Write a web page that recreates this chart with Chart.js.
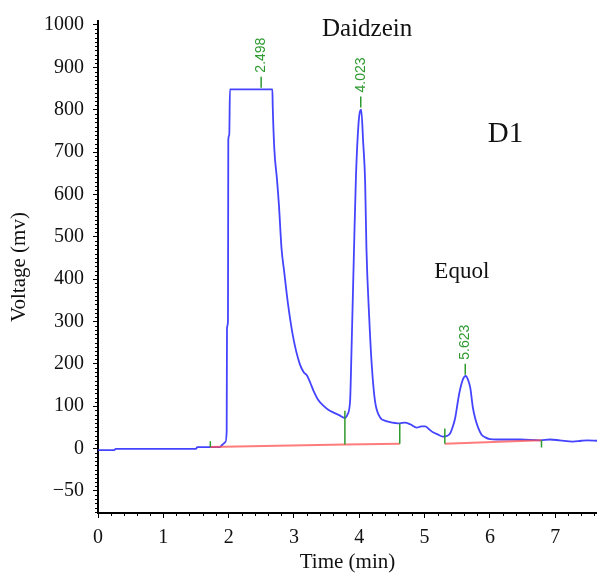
<!DOCTYPE html>
<html>
<head>
<meta charset="utf-8">
<script src="https://cdn.jsdelivr.net/npm/chart.js@4/dist/chart.umd.min.js"></script>
<style>
  body { margin: 0; background: #fff; }
  #grafico { display: block; }
</style>
</head>
<body>
<canvas id="grafico" width="597" height="575"></canvas>
<script>
const tempos = [0, 0.25, 0.27, 1.5, 1.52, 1.86, 1.9, 1.93, 1.95, 1.97, 1.975, 1.99, 1.995, 2.01, 2.02,
  2.67, 2.675, 2.70, 2.74, 2.77, 2.81, 2.85, 2.91, 2.99, 3.09, 3.15, 3.20, 3.25, 3.30, 3.37, 3.45,
  3.52, 3.60, 3.70, 3.78, 3.82, 3.86, 3.88, 3.92, 3.95, 3.99, 4.01, 4.03, 4.06, 4.09, 4.11, 4.15,
  4.19, 4.24, 4.32, 4.40, 4.47, 4.55, 4.62, 4.70, 4.78, 4.88, 4.95, 5.01, 5.07, 5.13, 5.20, 5.28,
  5.35, 5.39, 5.44, 5.47, 5.53, 5.59, 5.63, 5.67, 5.70, 5.74, 5.78, 5.82, 5.87, 5.93, 6.0, 6.11,
  6.46, 6.77, 6.92, 7.07, 7.27, 7.40, 7.49, 7.64]
const voltagens = [-4, -4, -1, -1, 3, 3, 8, 12, 15, 40, 284, 300, 730, 740, 848,
  848, 810, 706, 636, 575, 472, 418, 340, 261, 199, 180, 172, 155, 136, 115, 101,
  92, 85, 78, 72, 80, 113, 223, 472, 645, 770, 795, 800, 723, 629, 472, 317,
  200, 113, 73, 65, 62, 60, 59, 61, 57, 49, 52, 52, 45, 38, 33, 28,
  30, 35, 55, 73, 129, 164, 171, 160, 143, 96, 68, 49, 33, 26, 22, 21,
  21, 19, 21, 19, 16, 18, 19, 18]

// linhas de base da integracao (vermelho)
const baseInicio = [1.72, 3.78, 5.31]
const baseFim = [3.78, 4.62, 6.79]
const baseVInicio = [3, 9, 11]
const baseVFim = [9, 11, 19]

// marcas verdes nos limites dos picos
const limiteTempos = [1.72, 3.78, 4.62, 5.31, 6.79]
const limiteTopo = [17, 89, 59, 47, 19]
const limiteBase = [3, 9, 11, 11, 2]

// picos identificados
const picoTempos = [2.498, 4.023, 5.623]
const picoRotulos = ["2.498", "4.023", "5.623"]
const picoTopo = [852, 805, 174]

const yTicks = [-100, 0, 100, 200, 300, 400, 500, 600, 700, 800, 900, 1000]
const yRotulos = ["\u221250", "0", "100", "200", "300", "400", "500", "600", "700", "800", "900", "1000"]
const xTicks = [0, 1, 2, 3, 4, 5, 6, 7]

const textos = [
  { t: "Daidzein", x: 4.12, y: 990, size: 25 },
  { t: "D1", x: 6.24, y: 742, size: 29 },
  { t: "Equol", x: 5.57, y: 416, size: 23 }
]

const serif = "'Liberation Serif', 'DejaVu Serif', serif"

const dadosLinha = tempos.map((t, i) => ({ x: t, y: voltagens[i] }))
const dadosBase = []
baseInicio.forEach((t, i) => {
  dadosBase.push({ x: t, y: baseVInicio[i] })
  dadosBase.push({ x: baseFim[i], y: baseVFim[i] })
  dadosBase.push({ x: baseFim[i] + 0.001, y: null })
})

// desenha ticks menores, marcas verdes e textos
const extras = {
  id: "extras",
  afterDatasetsDraw(chart) {
    const ctx = chart.ctx
    const x = chart.scales.x
    const y = chart.scales.y
    ctx.save()
    ctx.strokeStyle = "#000"
    ctx.lineWidth = 1
    ctx.beginPath()
    for (let v = 0.2; v < x.max; v += 0.2) {
      if (Math.abs(v - Math.round(v)) < 0.01) continue
      const px = Math.round(x.getPixelForValue(v)) + 0.5
      ctx.moveTo(px, y.bottom)
      ctx.lineTo(px, y.bottom + 3)
    }
    for (let v = -150; v <= 1000; v += 10) {
      if (v % 100 === 0) continue
      const py = Math.round(y.getPixelForValue(v)) + 0.5
      ctx.moveTo(x.left - 3, py)
      ctx.lineTo(x.left, py)
    }
    ctx.stroke()

    ctx.strokeStyle = "#2f9a2f"
    ctx.lineWidth = 1.5
    ctx.beginPath()
    limiteTempos.forEach((t, i) => {
      const px = x.getPixelForValue(t)
      ctx.moveTo(px, y.getPixelForValue(limiteTopo[i]))
      ctx.lineTo(px, y.getPixelForValue(limiteBase[i]))
    })
    picoTempos.forEach((t, i) => {
      const px = x.getPixelForValue(t)
      const py = y.getPixelForValue(picoTopo[i])
      ctx.moveTo(px, py)
      ctx.lineTo(px, py - 11)
    })
    ctx.stroke()

    ctx.fillStyle = "#2f9a2f"
    ctx.font = "14px 'Liberation Sans', Arial, sans-serif"
    ctx.textAlign = "left"
    ctx.textBaseline = "middle"
    picoTempos.forEach((t, i) => {
      const px = x.getPixelForValue(t)
      const py = y.getPixelForValue(picoTopo[i]) - 15
      ctx.save()
      ctx.translate(px, py)
      ctx.rotate(-Math.PI / 2)
      ctx.fillText(picoRotulos[i], 0, 0)
      ctx.restore()
    })

    ctx.fillStyle = "#111"
    ctx.textAlign = "center"
    textos.forEach(tx => {
      ctx.font = tx.size + "px " + serif
      ctx.fillText(tx.t, x.getPixelForValue(tx.x), y.getPixelForValue(tx.y))
    })
    ctx.restore()
  }
}

new Chart(document.getElementById("grafico"), {
  type: "line",
  data: {
    datasets: [
      {
        label: "base",
        data: dadosBase,
        borderColor: "rgba(255, 80, 80, 0.75)",
        borderWidth: 2,
        pointRadius: 0,
        spanGaps: false
      },
      {
        label: "sinal",
        data: dadosLinha,
        borderColor: "rgba(35, 35, 255, 0.85)",
        borderWidth: 1.8,
        pointRadius: 0,
        cubicInterpolationMode: "monotone"
      }
    ]
  },
  options: {
    responsive: false,
    animation: false,
    layout: { padding: { top: 18, right: 0, left: 0, bottom: 0 } },
    plugins: { legend: { display: false }, tooltip: { enabled: false } },
    scales: {
      x: {
        type: "linear",
        min: 0,
        max: 7.64,
        afterBuildTicks: s => { s.ticks = xTicks.map(v => ({ value: v })) },
        afterFit: s => { s.height = 62 },
        ticks: { color: "#111", font: { family: serif, size: 20 }, padding: 8, maxRotation: 0 },
        grid: { drawOnChartArea: false, tickLength: 5, tickColor: "#000" },
        border: { color: "#000", width: 2 },
        title: { display: true, text: "Time (min)", color: "#111", font: { family: serif, size: 21 }, padding: { top: 0, bottom: 0 } }
      },
      y: {
        min: -152.6,
        max: 1009.4,
        afterBuildTicks: s => { s.ticks = yTicks.map(v => ({ value: v })) },
        afterFit: s => { s.width = 98 },
        ticks: {
          color: "#111",
          font: { family: serif, size: 20 },
          padding: 9,
          callback: v => yRotulos[yTicks.indexOf(v)]
        },
        grid: { drawOnChartArea: false, tickLength: 5, tickColor: "#000" },
        border: { color: "#000", width: 2 },
        title: { display: true, text: "Voltage (mv)", color: "#111", font: { family: serif, size: 21 }, padding: { top: 7, bottom: 0 } }
      }
    }
  },
  plugins: [extras]
})
</script>
</body>
</html>
